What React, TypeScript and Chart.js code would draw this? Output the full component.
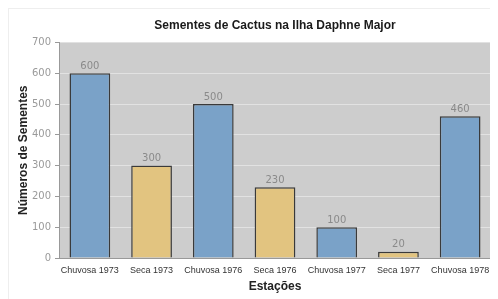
import React, { useEffect, useRef } from "react";
import { Chart, registerables } from "chart.js";

Chart.register(...registerables);

const categories = ["Chuvosa 1973", "Seca 1973", "Chuvosa 1976", "Seca 1976", "Chuvosa 1977", "Seca 1977", "Chuvosa 1978"];
const values = [600, 300, 500, 230, 100, 20, 460];
const seasonType = ["rain", "dry", "rain", "dry", "rain", "dry", "rain"];
const yTicks = [0, 100, 200, 300, 400, 500, 600, 700];
const chartTitle = "Sementes de Cactus na Ilha Daphne Major";

const BLUE = "#7aa2c8";
const YELLOW = "#e2c480";
const TITLE_FONT = "bold 12px 'Liberation Sans', Arial, sans-serif";

const bgPlugin = {
  id: "plotBg",
  beforeDraw(chart: any) {
    const { ctx, chartArea } = chart;
    ctx.save();
    ctx.fillStyle = "#cdcdcd";
    ctx.fillRect(chartArea.left, chartArea.top, chartArea.right - chartArea.left, chartArea.bottom - chartArea.top);
    ctx.restore();
  },
};

const titlePlugin = {
  id: "centeredTitle",
  afterDraw(chart: any) {
    const { ctx, chartArea } = chart;
    ctx.save();
    ctx.fillStyle = "#1a1a1a";
    ctx.font = TITLE_FONT;
    ctx.textAlign = "center";
    ctx.textBaseline = "middle";
    ctx.fillText(chartTitle, (chartArea.left + chartArea.right) / 2, 16.2);
    ctx.restore();
  },
};

const labelPlugin = {
  id: "valueLabels",
  afterDatasetsDraw(chart: any) {
    const { ctx } = chart;
    const meta = chart.getDatasetMeta(0);
    ctx.save();
    ctx.fillStyle = "#8a8a8a";
    ctx.font = "10px 'DejaVu Sans', sans-serif";
    ctx.textAlign = "center";
    ctx.textBaseline = "bottom";
    meta.data.forEach((bar: any, i: number) => {
      ctx.fillText(String(values[i]), bar.x, bar.y - 2);
    });
    ctx.restore();
  },
};

export default function App() {
  const ref = useRef<HTMLCanvasElement>(null);
  useEffect(() => {
    if (!ref.current) return;
    const chart = new Chart(ref.current, {
      type: "bar",
      data: {
        labels: categories,
        datasets: [
          {
            data: values,
            backgroundColor: seasonType.map((s) => (s === "rain" ? BLUE : YELLOW)),
            borderColor: "#3a3a3a",
            borderWidth: 1.5,
            categoryPercentage: 1,
            barPercentage: 0.66,
          },
        ],
      },
      options: {
        responsive: false,
        animation: false,
        devicePixelRatio: 1,
        layout: { padding: { left: 0, right: 7, top: 0, bottom: 0 } },
        plugins: {
          legend: { display: false },
          tooltip: { enabled: false },
          title: {
            display: true,
            text: chartTitle,
            color: "rgba(0,0,0,0)",
            font: { family: "'Liberation Sans', Arial, sans-serif", size: 12, weight: "bold" },
            padding: { top: 9, bottom: 10 },
          },
        },
        scales: {
          x: {
            grid: { display: false, drawTicks: false, tickLength: 0 },
            border: { display: true, color: "#999999", width: 1 },
            ticks: {
              color: "#333333",
              font: { family: "'Liberation Sans', Arial, sans-serif", size: 9 },
              padding: 7,
              maxRotation: 0,
              autoSkip: false,
            },
            title: {
              display: true,
              text: "Estações",
              color: "#222222",
              font: { family: "'Liberation Sans', Arial, sans-serif", size: 12, weight: "bold" },
              padding: { top: 2, bottom: 5 },
            },
            afterFit(scale: any) {
              scale.height = 41;
            },
          },
          y: {
            min: 0,
            max: 700,
            afterBuildTicks(scale: any) {
              scale.ticks = yTicks.map((v) => ({ value: v }));
            },
            grid: {
              color: (c: any) => (c.tick && (c.tick.value === 0 || c.tick.value === 700) ? "rgba(0,0,0,0)" : "#e2e2e2"),
              tickColor: "#999999",
              tickLength: 4,
              lineWidth: 1,
            },
            border: { display: true, color: "#999999", width: 1 },
            ticks: {
              color: "#9a9a9a",
              font: { family: "'DejaVu Sans', sans-serif", size: 10 },
              padding: 4,
            },
            title: {
              display: true,
              text: "Números de Sementes",
              color: "#222222",
              font: { family: "'Liberation Sans', Arial, sans-serif", size: 12, weight: "bold" },
              padding: { top: 7, bottom: 2 },
            },
            afterFit(scale: any) {
              scale.width = 50;
            },
          },
        },
      },
      plugins: [bgPlugin, labelPlugin, titlePlugin],
    });
    return () => chart.destroy();
  }, []);
  return (
    <div style={{ width: 490, height: 291, borderTop: "1px solid #eeeeee", borderLeft: "1px solid #eeeeee", boxSizing: "border-box", position: "relative" }}>
      <canvas ref={ref} width={489} height={290} style={{ display: "block" }} />
    </div>
  );
}
